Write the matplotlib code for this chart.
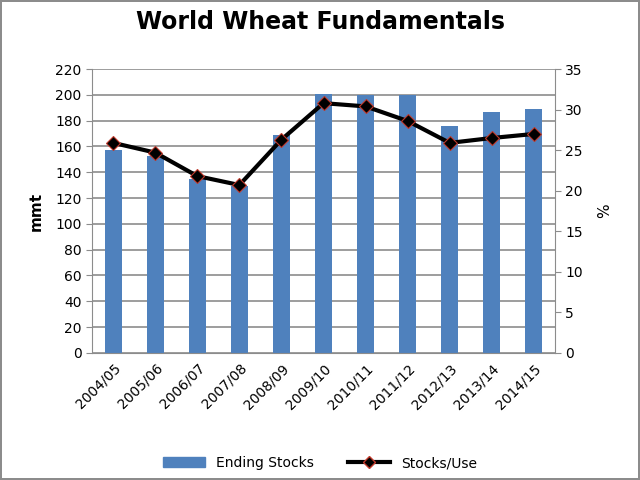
import numpy as np
import matplotlib.pyplot as plt
from matplotlib.lines import Line2D
from matplotlib.patches import Patch

years = ["2004/05", "2005/06", "2006/07", "2007/08", "2008/09", "2009/10",
         "2010/11", "2011/12", "2012/13", "2013/14", "2014/15"]
ending_stocks = [157, 153, 135, 129, 169, 201, 200, 200, 176, 187, 189]
stocks_use = [25.9, 24.7, 21.8, 20.7, 26.3, 30.8, 30.4, 28.6, 25.9, 26.5, 27.0]

fig = plt.figure(figsize=(6.4, 4.8), dpi=100)
fig.patch.set_edgecolor("#8c8c8c")
fig.patch.set_linewidth(1.5)

ax = fig.add_axes([0.144, 0.265, 0.723, 0.591])
x = np.arange(len(years))
ax.bar(x, ending_stocks, width=0.4, color="#4F81BD", zorder=2)
ax.set_ylim(0, 220)
ax.set_yticks(np.arange(0, 221, 20))
ax.set_xlim(-0.5, len(years) - 0.5)
ax.set_xticks(x)
ax.set_xticklabels(years, rotation=45, ha="right", rotation_mode="anchor")
ax.yaxis.grid(True, color="#8c8c8c", linewidth=1.2, zorder=0)
ax.set_axisbelow(True)
ax.set_ylabel("mmt", fontsize=11, fontweight="bold", labelpad=8)
for s in ["top", "right"]:
    ax.spines[s].set_visible(False)
ax.spines["left"].set_color("#8c8c8c")
ax.spines["bottom"].set_color("#8c8c8c")
ax.tick_params(axis="both", labelsize=10, color="#8c8c8c", length=4)
ax.tick_params(axis="x", length=0, pad=6)

ax2 = ax.twinx()
ax2.plot(x, stocks_use, color="black", linewidth=3, marker="D", markersize=7,
         markerfacecolor="black", markeredgecolor="#c0392b", markeredgewidth=0.8,
         zorder=3)
ax2.set_ylim(0, 35)
ax2.set_yticks(np.arange(0, 36, 5))
ax2.set_ylabel("%", fontsize=11, labelpad=10)
for s in ["top", "left", "bottom"]:
    ax2.spines[s].set_visible(False)
ax2.spines["right"].set_color("#8c8c8c")
ax2.tick_params(axis="y", labelsize=10, color="#8c8c8c", length=4)

fig.text(0.5, 0.955, "World Wheat Fundamentals", ha="center", va="center",
         fontsize=17, fontweight="bold")

handles = [Patch(color="#4F81BD"),
           Line2D([0], [0], color="black", linewidth=3, marker="D", markersize=6,
                  markerfacecolor="black", markeredgecolor="#c0392b")]
fig.legend(handles, ["Ending Stocks", "Stocks/Use"], loc="center",
           bbox_to_anchor=(0.5, 0.035), ncol=2, frameon=False, fontsize=10,
           handlelength=3, columnspacing=2.5)

fig.savefig("out.png", dpi=100)
